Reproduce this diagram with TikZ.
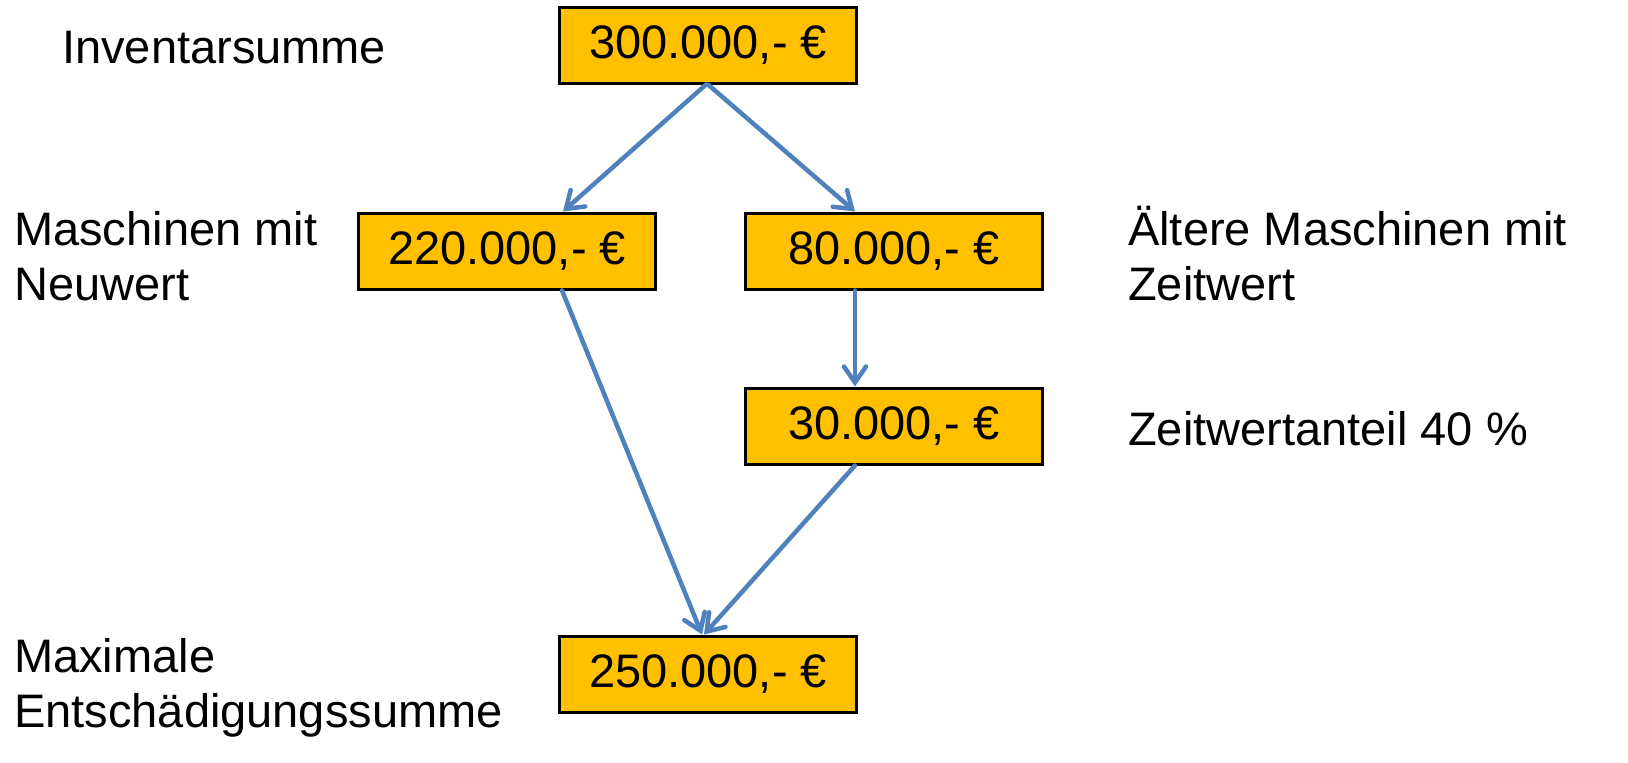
\documentclass[tikz,border=0pt]{standalone}
\usepackage{fontspec}
\setmainfont{Liberation Sans}
\usetikzlibrary{arrows.meta}

\definecolor{boxgold}{HTML}{FFC000}
\definecolor{arrowblue}{HTML}{4F81BD}

\tikzset{
  sumbox/.style={draw=black, line width=3pt, fill=boxgold, minimum width=297pt, minimum height=76pt, inner sep=0pt, font=\fontsize{47}{55}\selectfont},
  lbl/.style={inner sep=0pt, align=left, font=\fontsize{47}{55}\selectfont},
  flow/.style={color=arrowblue, line width=4.5pt, line cap=round, -{Straight Barb[length=16pt,width=22pt,line cap=round]}}
}

\begin{document}
\begin{tikzpicture}[x=1pt, y=-1pt]
  \useasboundingbox (0,0) rectangle (1628,763);
  % boxes
  \node[sumbox] (inv) at (708,45) {300.000,- €};
  \node[sumbox] (neu) at (507,251) {220.000,- €};
  \node[sumbox] (alt) at (894,251) {80.000,- €};
  \node[sumbox] (anteil) at (894,426) {30.000,- €};
  \node[sumbox] (max) at (708,674) {250.000,- €};
  % labels
  \node[lbl, anchor=base west] (l-inv) at (62,63) {Inventarsumme};
  \node[lbl, anchor=base west] (l-neu) at (14,300) {Maschinen mit\\Neuwert};
  \node[lbl, anchor=base west] (l-alt) at (1128,300) {Ältere Maschinen mit\\Zeitwert};
  \node[lbl, anchor=base west] (l-anteil) at (1128,445) {Zeitwertanteil 40 \%};
  \node[lbl, anchor=base west] (l-max) at (14,727) {Maximale\\Entschädigungssumme};
  \path[flow]
  ([xshift=-2pt]inv.south) edge ([xshift=56pt]neu.north)
  ([xshift=0pt]inv.south) edge ([xshift=-39pt]alt.north)
  ([xshift=-39pt]alt.south) edge ([xshift=-39pt]anteil.north)
  ([xshift=55pt]neu.south) edge ([xshift=-6pt]max.north)
  ([xshift=-39pt]anteil.south) edge ([xshift=-4pt]max.north)
;
\end{tikzpicture}
\end{document}
